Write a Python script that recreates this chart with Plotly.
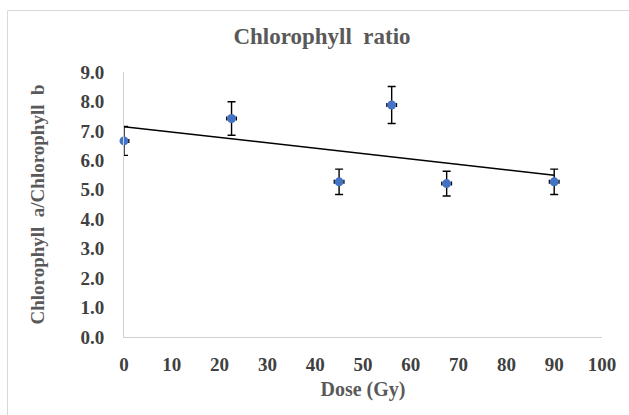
import numpy as np
import plotly.graph_objects as go

# Dose levels (Gy) and measured chlorophyll a / chlorophyll b ratio
dose = [0, 22.5, 45, 56, 67.5, 90]
ratio = [6.66, 7.42, 5.27, 7.88, 5.21, 5.27]
ratio_err = [0.49, 0.57, 0.43, 0.63, 0.42, 0.43]
dose_err = [1.0, 1.0, 1.0, 1.0, 1.0, 1.0]

x_ticks = list(range(0, 101, 10))
y_ticks = [i * 1.0 for i in range(0, 10)]

# Least-squares linear trend through the measurements
slope, intercept = np.polyfit(dose, ratio, 1)
trend_x = [min(dose), max(dose)]
trend_y = [intercept + slope * v for v in trend_x]

W, H = 629, 415
L, R, T, B = 124, 27, 72, 78
pw, ph = W - L - R, H - T - B

font_family = "Liberation Serif, Times New Roman, serif"
grey = "#595959"
label_grey = "#404040"

fig = go.Figure()
fig.add_trace(go.Scatter(
    x=trend_x, y=trend_y, mode="lines",
    line=dict(color="black", width=1.5),
    hoverinfo="skip", showlegend=False,
))
fig.add_trace(go.Scatter(
    x=dose, y=ratio, mode="markers", cliponaxis=False,
    marker=dict(color="#4472C4", size=9),
    error_y=dict(type="data", array=ratio_err, color="black", thickness=1.4, width=4),
    error_x=dict(type="data", array=dose_err, color="black", thickness=1.4, width=2),
    showlegend=False,
))


def px_x(p):
    return (p - L) / pw


def px_y(p):
    return (H - B - p) / ph


fig.update_layout(
    width=W, height=H,
    margin=dict(l=L, r=R, t=T, b=B),
    paper_bgcolor="white", plot_bgcolor="white",
    font=dict(family=font_family, color=grey),
    title=dict(
        text="<b>Chlorophyll\u00a0 ratio</b>",
        x=322 / W, xanchor="center", y=1 - 36 / H, yanchor="middle",
        font=dict(size=23, color=grey, family=font_family),
    ),
    xaxis=dict(
        range=[0, 100], tickvals=x_ticks, ticktext=[f"<b>{v}</b>" for v in x_ticks],
        showgrid=False, zeroline=False, showline=True, linecolor="#d0d0d0", linewidth=1,
        ticks="", tickfont=dict(size=19, color=label_grey, family=font_family),
        ticklabelstandoff=10, automargin=False,
        title=dict(text="<b>Dose (Gy)</b>", font=dict(size=20, color=grey, family=font_family), standoff=8),
    ),
    yaxis=dict(
        range=[0, 9], tickvals=y_ticks, ticktext=[f"<b>{v:.1f}</b>" for v in y_ticks],
        showgrid=False, zeroline=False, showline=True, linecolor="#d0d0d0", linewidth=1,
        ticks="", tickfont=dict(size=19, color=label_grey, family=font_family),
        ticklabelstandoff=15, automargin=False,
        title=dict(text="<b>Chlorophyll\u00a0 a/Chlorophyll\u00a0 b</b>",
                   font=dict(size=19, color=grey, family=font_family), standoff=30),
    ),
    shapes=[dict(
        type="rect", xref="paper", yref="paper",
        x0=px_x(7.5), x1=px_x(W + 20), y0=px_y(H + 20), y1=px_y(10.5),
        line=dict(color="#d9d9d9", width=1), fillcolor="rgba(0,0,0,0)", layer="below",
    )],
)

fig.write_html("out.html")
